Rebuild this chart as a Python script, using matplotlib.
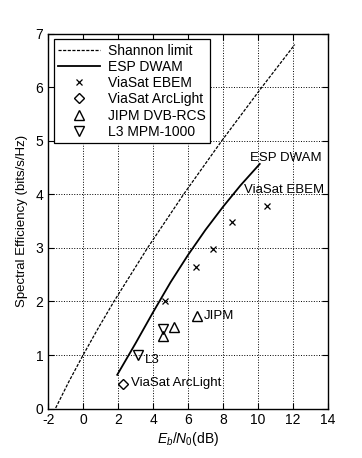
import matplotlib
matplotlib.use("Agg")
import matplotlib.pyplot as plt

plt.rcParams['font.family'] = ['Liberation Sans', 'DejaVu Sans']
plt.rcParams['mathtext.fontset'] = 'custom'
plt.rcParams['mathtext.rm'] = 'Liberation Sans'
plt.rcParams['mathtext.it'] = 'Liberation Sans:italic'
plt.rcParams['axes.unicode_minus'] = False

# Shannon limit
shannon_x = [-1.57, -0.82, 0.0, 0.86, 1.76, 3.68, 5.74, 7.92, 10.21, 12.1]
shannon_y = [0.01, 0.5, 1.0, 1.5, 2.0, 3.0, 4.0, 5.0, 6.0, 6.8]

# ESP DWAM (solid curve)
dwam_x = [1.95, 3.0, 4.0, 5.0, 6.0, 7.0, 8.0, 9.0, 10.1]
dwam_y = [0.63, 1.22, 1.8, 2.36, 2.87, 3.34, 3.77, 4.17, 4.57]

# ViaSat EBEM
ebem_x = [4.69, 6.46, 7.41, 8.5, 10.5]
ebem_y = [2.0, 2.65, 2.99, 3.49, 3.79]

# ViaSat ArcLight
arc_x = [2.27]
arc_y = [0.46]

# JIPM DVB-RCS
jipm_x = [4.55, 5.22, 6.51]
jipm_y = [1.35, 1.52, 1.73]

# L3 MPM-1000
l3_x = [3.13, 4.55]
l3_y = [1.0, 1.49]

labels = ['Shannon limit', 'ESP DWAM', 'ViaSat EBEM', 'ViaSat ArcLight',
          'JIPM DVB-RCS', 'L3 MPM-1000']

annotations = [
    ('ESP DWAM', 9.54, 4.69),
    ('ViaSat EBEM', 9.22, 4.08),
    ('JIPM', 6.93, 1.72),
    ('L3', 3.54, 0.91),
    ('ViaSat ArcLight', 2.74, 0.47),
]

xticks = [-2, 0, 2, 4, 6, 8, 10, 12, 14]
yticks = [0, 1, 2, 3, 4, 5, 6, 7]

fig = plt.figure(figsize=(3.62, 4.58), dpi=100)
ax = fig.add_axes([0.133, 0.108, 0.773, 0.818])

ax.plot(shannon_x, shannon_y, 'k--', lw=0.9, dashes=(2.5, 1.2), label=labels[0])
ax.plot(dwam_x, dwam_y, 'k-', lw=1.3, label=labels[1])
ax.plot(ebem_x, ebem_y, 'kx', ms=5, mew=0.9, ls='none', label=labels[2])
ax.plot(arc_x, arc_y, 'D', ms=5.5, mfc='none', mec='k', mew=1.0, ls='none', label=labels[3])
ax.plot(jipm_x, jipm_y, '^', ms=7.5, mfc='none', mec='k', mew=1.0, ls='none', label=labels[4])
ax.plot(l3_x, l3_y, 'v', ms=7.5, mfc='none', mec='k', mew=1.0, ls='none', label=labels[5])

for txt, x, y in annotations:
    ax.text(x, y, txt, fontsize=9.5, va='center', ha='left')

ax.set_xlim(-2, 14)
ax.set_ylim(0, 7)
ax.set_xticks(xticks)
ax.set_yticks(yticks)
ax.grid(True, ls=':', color='k', lw=0.7)
ax.tick_params(direction='in', top=True, right=True, labelsize=10, length=4)
for s in ax.spines.values():
    s.set_linewidth(1.0)

ax.set_xlabel(r'$E_b/N_0$(dB)', fontsize=10, labelpad=2)
ax.set_ylabel('Spectral Efficiency (bits/s/Hz)', fontsize=9.5, labelpad=5)

leg = ax.legend(loc='upper left', fontsize=10, frameon=True, fancybox=False,
                edgecolor='k', framealpha=1, handlelength=3.0, borderaxespad=0.4,
                labelspacing=0.16, handletextpad=0.6, borderpad=0.3)
leg.get_frame().set_linewidth(0.9)

fig.savefig('out.png', dpi=100)
